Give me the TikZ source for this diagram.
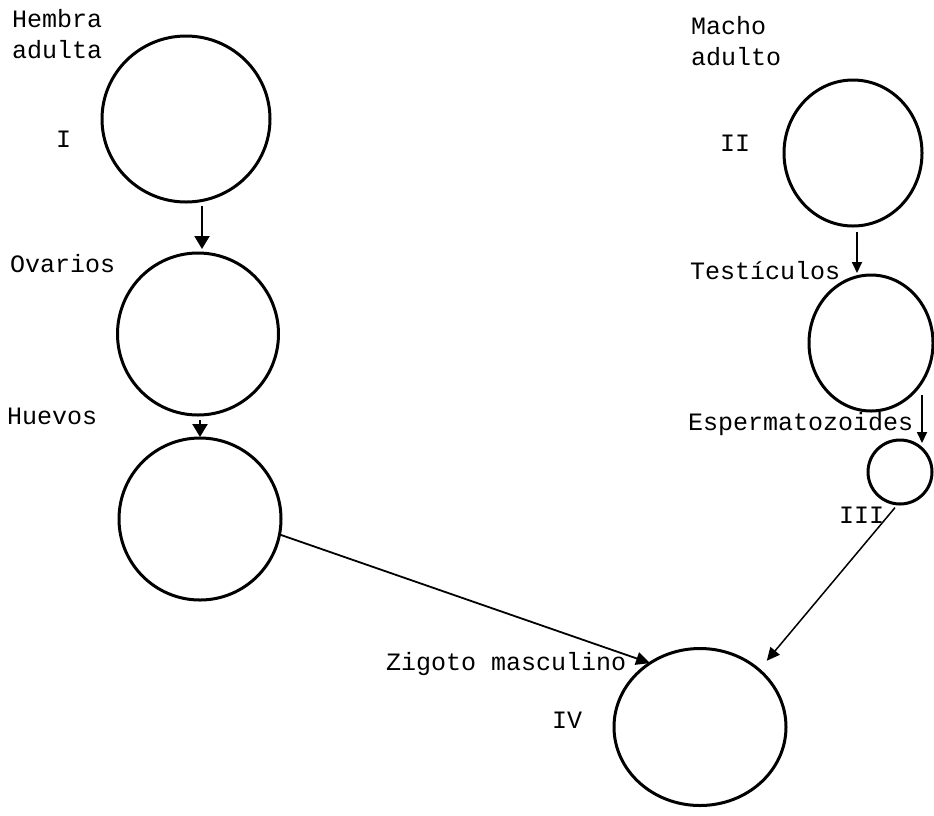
\documentclass[tikz,border=0pt]{standalone}
\usepackage{fontspec}
\newfontfamily\tw{Liberation Mono}
\usetikzlibrary{arrows.meta,shapes.geometric,calc}
\begin{document}
\begin{tikzpicture}[x=1pt,y=-1pt,
  cell/.style={draw,line width=3pt,ellipse,inner sep=0pt,outer sep=0pt},
  lbl/.style={font=\tw\fontsize{25}{31}\selectfont,inner sep=0pt,anchor=base west},
  link/.style={line width=2.2pt,-{Triangle[length=13pt,width=15pt]}},
  thinlink/.style={line width=1.8pt,-{Triangle[length=11pt,width=10pt]}}]
\useasboundingbox (0,0) rectangle (934,815);

% cells
\node[cell,minimum width=168pt,minimum height=166pt] (c1) at (186,119) {};
\node[cell,minimum width=161pt,minimum height=162pt] (c2) at (198,334) {};
\node[cell,minimum width=162pt,minimum height=162pt] (c3) at (200,519) {};
\node[cell,minimum width=138pt,minimum height=146pt] (c4) at (853,153) {};
\node[cell,minimum width=124pt,minimum height=136pt] (c5) at (871,343) {};
\node[cell,minimum width=64pt,minimum height=64pt]   (c6) at (900,472) {};
\node[cell,minimum width=172pt,minimum height=157pt] (c7) at (700,727) {};

% labels
\node[lbl] (t1a) at (12,27) {Hembra};
\node[lbl] (t1b) at (12,58) {adulta};
\node[lbl] (n1)  at (56,147) {I};
\node[lbl] (t2)  at (10,272) {Ovarios};
\node[lbl] (t3)  at (7,424) {Huevos};
\node[lbl] (t4a) at (691,34) {Macho};
\node[lbl] (t4b) at (691,65) {adulto};
\node[lbl] (n2)  at (720,151) {II};
\node[lbl] (t5)  at (690,279) {Testículos};
\node[lbl] (t6)  at (688,430) {Espermatozoides};
\node[lbl] (n3)  at (839,523) {III};
\node[lbl] (t7)  at (386,670) {Zigoto masculino};
\node[lbl] (n4)  at (552,728) {IV};

% connectors
\draw[link] ($(c1.south -| c2.north)+(4,4)$) -- ($(c2.north)+(4,-4)$);
\draw[link] ($(c2.south -| c3.north)+(0,5)$) -- ($(c3.north)+(0,-1)$);
\draw[thinlink] ($(c4.south)+(4,6)$) -- ($(c4.south |- c5.north)+(4,-2)$);
\draw[thinlink] ($(c6.north)+(22,-45)$) -- ($(c6.north)+(22,3)$);
\draw[thinlink,-{Triangle[length=14pt,width=13pt]}] (c3.-11) -- (c7.128);
\draw[thinlink,line width=1.5pt,-{Triangle[length=13pt,width=12pt]},shorten >=12pt] ($(c6.-99)+(0,4)$) -- (c7.44);
\end{tikzpicture}
\end{document}
